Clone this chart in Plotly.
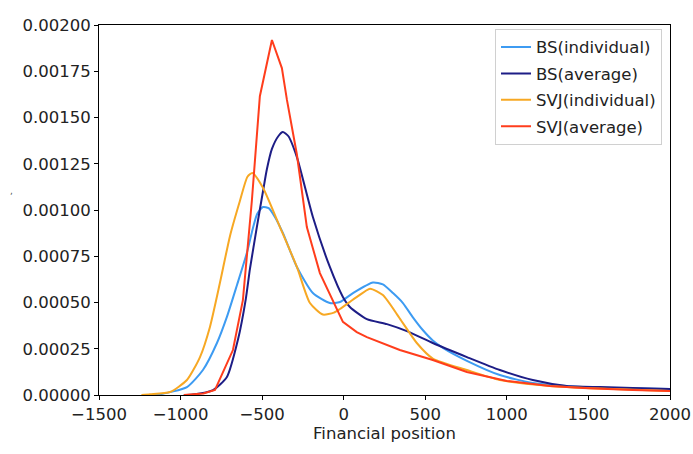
import plotly.graph_objects as go

# Density estimates of financial position
bs_ind_x = [-1180, -1126, -961, -863, -777, -716, -654, -593, -557, -530, -495, -460, -420, -373, -287, -189, -85, -23, 57, 179, 240, 302, 363, 424, 486, 546, 608, 755, 957, 1159, 1466, 2000]
bs_ind_y = [0.0, 0.000004, 0.000043, 0.000135, 0.000281, 0.000422, 0.000595, 0.00077, 0.0009, 0.00098, 0.001016, 0.00101, 0.00096, 0.000876, 0.000692, 0.000551, 0.000497, 0.000503, 0.000551, 0.000608, 0.000598, 0.000551, 0.000497, 0.00042, 0.00035, 0.000295, 0.000255, 0.000185, 0.000108, 0.000065, 0.000043, 0.000032]

bs_avg_x = [-980, -924, -801, -716, -648, -600, -575, -532, -495, -471, -440, -400, -373, -340, -287, -189, -85, -5, 38, 142, 265, 387, 546, 755, 957, 1159, 1367, 1570, 1772, 2000]
bs_avg_y = [0.0, 0.000003, 0.000027, 0.000097, 0.0003, 0.00052, 0.00068, 0.00091, 0.0011, 0.00122, 0.00133, 0.0014, 0.001421, 0.0014, 0.001286, 0.000962, 0.000692, 0.00053, 0.000476, 0.00041, 0.000383, 0.000345, 0.000281, 0.000205, 0.000135, 0.000081, 0.000049, 0.000043, 0.000038, 0.000032]

svj_ind_x = [-1240, -1187, -1065, -961, -881, -820, -759, -697, -636, -590, -560, -495, -391, -287, -207, -128, -60, -23, 81, 161, 240, 344, 448, 546, 755, 957, 1263, 1570, 2000]
svj_ind_y = [0.0, 0.000004, 0.000016, 0.000081, 0.000205, 0.000368, 0.000605, 0.00086, 0.00105, 0.00118, 0.0012, 0.00112, 0.000908, 0.000692, 0.000497, 0.000435, 0.000445, 0.000465, 0.00053, 0.000575, 0.00054, 0.000413, 0.000281, 0.000197, 0.000135, 0.000081, 0.000049, 0.000035, 0.000022]

svj_avg_x = [-980, -942, -860, -789, -679, -618, -563, -514, -440, -379, -348, -287, -226, -146, -42, -5, 80, 142, 344, 546, 755, 1000, 1263, 1466, 1772, 2000]
svj_avg_y = [0.0, 0.000002, 0.000008, 0.000027, 0.000243, 0.000513, 0.00105, 0.001615, 0.001919, 0.001767, 0.001595, 0.0013, 0.000908, 0.000659, 0.000459, 0.000395, 0.00034, 0.000313, 0.000243, 0.000189, 0.000124, 0.000076, 0.000049, 0.000038, 0.000027, 0.000022]

y_ticks = [0.0, 0.00025, 0.0005, 0.00075, 0.001, 0.00125, 0.0015, 0.00175, 0.002]
x_ticks = [-1500, -1000, -500, 0, 500, 1000, 1500, 2000]

series = [
    ("BS(individual)", bs_ind_x, bs_ind_y, "#3d9bf2", "spline"),
    ("BS(average)", bs_avg_x, bs_avg_y, "#1d1d86", "spline"),
    ("SVJ(individual)", svj_ind_x, svj_ind_y, "#f7a823", "spline"),
    ("SVJ(average)", svj_avg_x, svj_avg_y, "#ff3d1c", "linear"),
]

FONT = dict(family="DejaVu Sans", size=16.5, color="#222222")

fig = go.Figure()
for i, (name, xs, ys, color, shape) in enumerate(series):
    line = dict(color=color, width=2, shape=shape)
    if shape == "spline":
        line["smoothing"] = 0.6
    fig.add_trace(go.Scatter(x=xs, y=ys, mode="lines", name=name, line=line,
                             legendgroup=f"g{i}"))

axis_common = dict(
    showline=True, mirror=True, linecolor="black", linewidth=1,
    ticks="outside", ticklen=4, tickcolor="black", showgrid=False, zeroline=False,
    tickfont=FONT,
)

fig.update_layout(
    width=693, height=454,
    margin=dict(l=99, r=23, t=25, b=59, autoexpand=False),
    paper_bgcolor="white", plot_bgcolor="white",
    font=FONT,
    xaxis=dict(range=[-1500, 2000], tickvals=x_ticks, tickformat="d",
               title=dict(text="Financial position", standoff=2, font=FONT),
               **axis_common),
    yaxis=dict(range=[0, 0.002], tickvals=y_ticks, tickformat=".5f", **axis_common),
    legend=dict(x=0.986, y=0.99, xanchor="right", yanchor="top",
                bgcolor="rgba(255,255,255,0.8)", bordercolor="#d0d0d0", borderwidth=1,
                font=FONT, tracegroupgap=2),
    annotations=[dict(text=",", x=-0.16, y=0.55, xref="paper", yref="paper", showarrow=False,
                      font=dict(size=9, color="#555555"))],
)

fig.write_html("out.html")
